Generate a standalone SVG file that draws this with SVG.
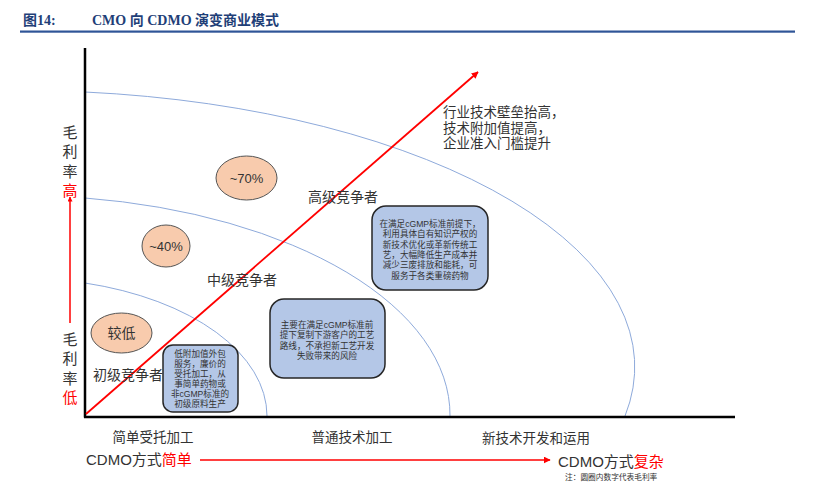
<svg xmlns="http://www.w3.org/2000/svg" width="822" height="493" viewBox="0 0 822 493">
<defs>
<style>
.t{font-family:"Liberation Sans","Noto Sans CJK SC",sans-serif;fill:#333;}
.ttl{font-family:"Liberation Serif","Noto Sans CJK SC",serif;font-weight:bold;fill:#1f3f78;font-size:14px;}
.arc{fill:none;stroke:#8eaadb;stroke-width:1;}
.box{fill:#b4c7e7;stroke:#262626;stroke-width:1.5;}
.ell{fill:#f8cbad;stroke:#555;stroke-width:1;}
.bt{font-size:8.6px;text-anchor:middle;}
.lab{font-size:14px;}
.red{fill:#ff0000;}
</style>
<marker id="ah" viewBox="0 0 10 10" refX="9" refY="5" markerWidth="5" markerHeight="5" orient="auto" markerUnits="userSpaceOnUse">
<path d="M0,0 L10,5 L0,10 z" fill="#ff0000"/>
</marker>
<marker id="ah2" viewBox="0 0 10 10" refX="9" refY="5" markerWidth="7" markerHeight="7" orient="auto" markerUnits="userSpaceOnUse">
<path d="M0,0 L10,5 L0,10 z" fill="#ff0000"/>
</marker>
</defs>
<rect width="822" height="493" fill="#ffffff"/>

<g id="title">
<text class="ttl" x="23" y="25">图14:</text>
<text class="ttl" x="92" y="25">CMO 向 CDMO 演变商业模式</text>
<rect x="20" y="30.5" width="775" height="2.2" fill="#2f5597"/>
</g>

<g id="arcs">
<path class="arc" d="M85,92 A615,276.5 0 0 1 625,416"/>
<path class="arc" d="M85,198 A430,219.5 0 0 1 450,416"/>
<path class="arc" d="M85,283 A247,138 0 0 1 267,416"/>
</g>

<g id="axes">
<line x1="85" y1="48" x2="85" y2="417.5" stroke="#000" stroke-width="2.5"/>
<line x1="84" y1="417" x2="735" y2="417" stroke="#000" stroke-width="2.5"/>
</g>

<g id="connectors">
<line x1="86" y1="414" x2="478" y2="72" stroke="#ff0000" stroke-width="1.8" marker-end="url(#ah2)"/>
<line x1="70" y1="323" x2="70" y2="197" stroke="#ff0000" stroke-width="1.5" marker-end="url(#ah)"/>
<line x1="200" y1="460" x2="550" y2="460" stroke="#ff0000" stroke-width="1.5" marker-end="url(#ah2)"/>
</g>

<g id="yaxis-labels" class="t lab" text-anchor="middle">
<text x="70" y="138" style="font-size:15px">毛</text>
<text x="70" y="157" style="font-size:15px">利</text>
<text x="70" y="177" style="font-size:15px">率</text>
<text x="70" y="196" style="font-size:15px" class="red">高</text>
<text x="70" y="345" style="font-size:15px">毛</text>
<text x="70" y="364" style="font-size:15px">利</text>
<text x="70" y="384" style="font-size:15px">率</text>
<text x="70" y="403" style="font-size:15px" class="red">低</text>
</g>

<g id="ell70">
<ellipse class="ell" cx="246.5" cy="178" rx="30.5" ry="22"/>
<text class="t" x="246.5" y="182.5" font-size="13" text-anchor="middle">~70%</text>
</g>
<g id="ell40">
<ellipse class="ell" cx="166" cy="246" rx="24" ry="21"/>
<text class="t" x="166" y="250.5" font-size="13" text-anchor="middle">~40%</text>
</g>
<g id="elllow">
<ellipse class="ell" cx="121.5" cy="333" rx="30.5" ry="20"/>
<text class="t" x="121.5" y="338" font-size="14" text-anchor="middle">较低</text>
</g>

<g id="lab-high"><text class="t lab" x="308" y="202">高级竞争者</text></g>
<g id="lab-mid"><text class="t lab" x="207" y="285">中级竞争者</text></g>
<g id="lab-low"><text class="t lab" x="93" y="380">初级竞争者</text></g>

<g id="box-high">
<rect class="box" x="372" y="206" width="116" height="84" rx="14"/>
<text class="t bt" x="430" y="227">在满足cGMP标准前提下，</text>
<text class="t bt" x="430" y="237.3">利用具体自有知识产权的</text>
<text class="t bt" x="430" y="247.6">新技术优化或革新传统工</text>
<text class="t bt" x="430" y="257.9">艺，大幅降低生产成本并</text>
<text class="t bt" x="430" y="268.2">减少三废排放和能耗，可</text>
<text class="t bt" x="430" y="278.5">服务于各类重磅药物</text>
</g>

<g id="box-mid">
<rect class="box" x="270" y="299" width="115" height="79" rx="14"/>
<text class="t bt" x="327" y="328">主要在满足cGMP标准前</text>
<text class="t bt" x="327" y="338.3">提下复制下游客户的工艺</text>
<text class="t bt" x="327" y="348.6">路线，不承担新工艺开发</text>
<text class="t bt" x="327" y="358.9">失败带来的风险</text>
</g>

<g id="box-low">
<rect class="box" x="163" y="345" width="75" height="67" rx="10"/>
<text class="t bt" x="200" y="357">低附加值外包</text>
<text class="t bt" x="200" y="367">服务，廉价的</text>
<text class="t bt" x="200" y="377">受托加工，从</text>
<text class="t bt" x="200" y="387">事简单药物或</text>
<text class="t bt" x="200" y="397">非cGMP标准的</text>
<text class="t bt" x="200" y="407">初级原料生产</text>
</g>

<g id="trend-text" class="t" font-size="13.5">
<text x="443" y="117">行业技术壁垒抬高，</text>
<text x="443" y="133">技术附加值提高，</text>
<text x="443" y="148">企业准入门槛提升</text>
</g>

<g id="xaxis-labels" class="t" font-size="13.5" text-anchor="middle">
<text x="153" y="442">简单受托加工</text>
<text x="352" y="442">普通技术加工</text>
<text x="536" y="443">新技术开发和运用</text>
</g>

<g id="cdmo-simple"><text class="t" x="86" y="465" font-size="15">CDMO方式<tspan class="red">简单</tspan></text></g>
<g id="cdmo-complex"><text class="t" x="558" y="467" font-size="15">CDMO方式<tspan class="red">复杂</tspan></text></g>
<g id="note"><text class="t" x="565" y="480" font-size="7.7">注：圆圈内数字代表毛利率</text></g>
</svg>
